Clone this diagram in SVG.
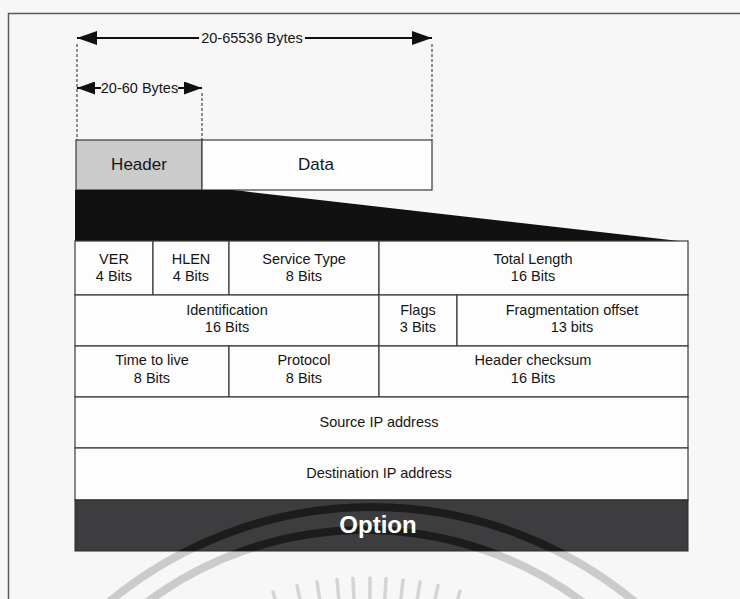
<svg xmlns="http://www.w3.org/2000/svg" width="740" height="599" viewBox="0 0 740 599">
<style>
  .t{font-family:"Liberation Sans",Arial,sans-serif;font-size:14.5px;fill:#151515;text-anchor:middle}
  .big{font-size:17px}
  .cell{fill:#fdfdfd;stroke:#3a3a3a;stroke-width:1.2}
  .dash{stroke:#222;stroke-width:1;stroke-dasharray:3 2;fill:none}
  .dim{stroke:#111;stroke-width:2;fill:none}
  .wm{fill:none;stroke:#cbcbcb;stroke-width:8}
  .wmd{fill:none;stroke:#1c1c1c;stroke-width:8}
  .ray{stroke:#d4d4d4;stroke-width:3.5;stroke-linecap:round}
</style>
<defs>
  <marker id="ah" markerUnits="userSpaceOnUse" markerWidth="20" markerHeight="14" refX="20" refY="7" orient="auto-start-reverse" viewBox="0 0 20 14">
    <path d="M0,0 L20,7 L0,14 z" fill="#111"/>
  </marker>
  <marker id="ahs" markerUnits="userSpaceOnUse" markerWidth="18" markerHeight="13" refX="18" refY="6.5" orient="auto-start-reverse" viewBox="0 0 18 13">
    <path d="M0,0 L18,6.5 L0,13 z" fill="#111"/>
  </marker>
  <clipPath id="barclip"><rect x="75" y="500" width="613" height="51"/></clipPath>
</defs>
<rect x="0" y="0" width="740" height="599" fill="#f7f7f8"/>
<path d="M8.5,599 L8.5,13.5 L740,13.5" fill="none" stroke="#5a5a5a" stroke-width="1.5"/>

<g id="watermark">
  <path class="wm" d="M105.3,605 A412,412 0 0 1 638.7,605"/>
  <path class="wm" d="M143.4,605 A365,365 0 0 1 586.6,605"/>
  <line class="ray" x1="273" y1="592" x2="276" y2="602"/>
  <line class="ray" x1="297" y1="585.7" x2="300.6" y2="602"/>
  <line class="ray" x1="317" y1="582" x2="320.1" y2="602"/>
  <line class="ray" x1="337" y1="579.5" x2="339.1" y2="602"/>
  <line class="ray" x1="353" y1="578.3" x2="354.1" y2="602"/>
  <line class="ray" x1="370" y1="578" x2="369.9" y2="602"/>
  <line class="ray" x1="386" y1="578.5" x2="384.7" y2="602"/>
  <line class="ray" x1="403" y1="579.9" x2="400.6" y2="602"/>
  <line class="ray" x1="420" y1="582.1" x2="416.8" y2="602"/>
  <line class="ray" x1="438" y1="585.5" x2="434.4" y2="602"/>
  <line class="ray" x1="460" y1="591.1" x2="456.8" y2="602"/>
</g>

<g id="header">
  <rect x="76" y="140" width="126" height="50" fill="#cbcbcb" stroke="#3a3a3a" stroke-width="1.2"/>
  <text class="t big" x="139" y="170">Header</text>
</g>
<g id="data">
  <rect x="202" y="140" width="230" height="50" class="cell"/>
  <text class="t big" x="316" y="170">Data</text>
</g>
<g id="expand">
  <path d="M75,190 L232,190 Q240,190.5 250,192 L688,242 L75,242 z" fill="#111"/>
</g>

<g id="ver"><rect class="cell" x="75" y="241" width="78" height="54"/><text class="t" x="114" y="264">VER</text><text class="t" x="114" y="281">4 Bits</text></g>
<g id="hlen"><rect class="cell" x="153" y="241" width="76" height="54"/><text class="t" x="191" y="264">HLEN</text><text class="t" x="191" y="281">4 Bits</text></g>
<g id="service"><rect class="cell" x="229" y="241" width="150" height="54"/><text class="t" x="304" y="264">Service Type</text><text class="t" x="304" y="281">8 Bits</text></g>
<g id="totallength"><rect class="cell" x="379" y="241" width="309" height="54"/><text class="t" x="533" y="264">Total Length</text><text class="t" x="533" y="281">16 Bits</text></g>

<g id="identification"><rect class="cell" x="75" y="295" width="304" height="51"/><text class="t" x="227" y="315">Identification</text><text class="t" x="227" y="332">16 Bits</text></g>
<g id="flags"><rect class="cell" x="379" y="295" width="78" height="51"/><text class="t" x="418" y="315">Flags</text><text class="t" x="418" y="332">3 Bits</text></g>
<g id="fragoffset"><rect class="cell" x="457" y="295" width="231" height="51"/><text class="t" x="572" y="315">Fragmentation offset</text><text class="t" x="572" y="332">13 bits</text></g>

<g id="ttl"><rect class="cell" x="75" y="346" width="154" height="51"/><text class="t" x="152" y="365">Time to live</text><text class="t" x="152" y="383">8 Bits</text></g>
<g id="protocol"><rect class="cell" x="229" y="346" width="150" height="51"/><text class="t" x="304" y="365">Protocol</text><text class="t" x="304" y="383">8 Bits</text></g>
<g id="checksum"><rect class="cell" x="379" y="346" width="309" height="51"/><text class="t" x="533" y="365">Header checksum</text><text class="t" x="533" y="383">16 Bits</text></g>

<g id="sourceip"><rect class="cell" x="75" y="397" width="613" height="51"/><text class="t" x="379" y="427">Source IP address</text></g>
<g id="destip"><rect class="cell" x="75" y="448" width="613" height="52"/><text class="t" x="379" y="478">Destination IP address</text></g>
<g id="option">
  <rect x="75" y="500" width="613" height="51" fill="#3d3d3f" stroke="#2a2a2a" stroke-width="1"/>
  <g clip-path="url(#barclip)">
    <path class="wmd" d="M105.3,605 A412,412 0 0 1 638.7,605"/>
    <path class="wmd" d="M143.4,605 A365,365 0 0 1 586.6,605"/>
  </g>
  <text x="378" y="533" style="font-family:'Liberation Sans',Arial,sans-serif;font-size:24px;font-weight:bold;fill:#ffffff;text-anchor:middle">Option</text>
</g>

<g id="connectors">
  <line class="dash" x1="77" y1="44" x2="77" y2="140"/>
  <line class="dash" x1="432" y1="44" x2="432" y2="140"/>
  <line class="dash" x1="202" y1="93" x2="202" y2="140"/>
  <line class="dim" x1="199" y1="38" x2="77" y2="38" marker-end="url(#ah)"/>
  <line class="dim" x1="305" y1="38" x2="432" y2="38" marker-end="url(#ah)"/>
  <text class="t" x="252" y="43">20-65536 Bytes</text>
  <line class="dim" x1="101" y1="88" x2="77" y2="88" marker-end="url(#ahs)"/>
  <line class="dim" x1="178" y1="88" x2="202" y2="88" marker-end="url(#ahs)"/>
  <text class="t" x="139.5" y="93">20-60 Bytes</text>
</g>
</svg>
